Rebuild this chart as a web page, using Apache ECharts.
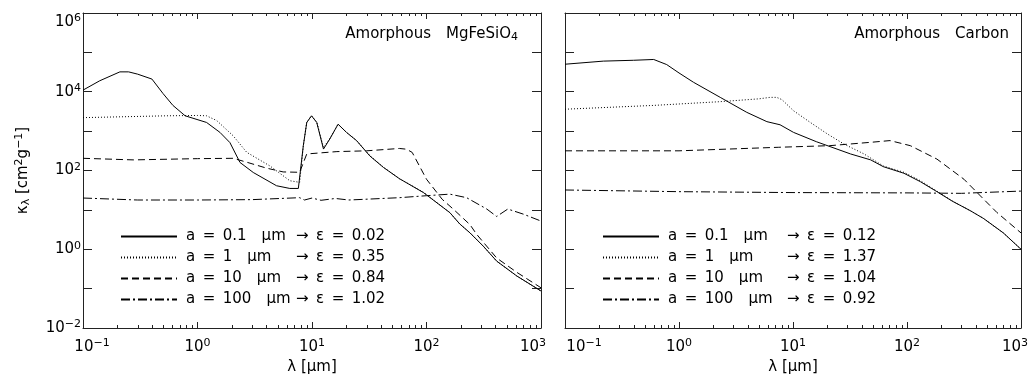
<!DOCTYPE html>
<html><head><meta charset="utf-8">
<script src="https://cdn.jsdelivr.net/npm/echarts@6/dist/echarts.min.js"></script>
<style>html,body{margin:0;padding:0;background:#fff}#c{width:1030px;height:383px}</style>
</head><body><div id="c"></div>
<script>
const FONT = 'DejaVu Sans';

// ---- data: [lambda (um), kappa (cm^2/g)] ----
const sil01 = [[0.1,1.1e4],[0.14,1.9e4],[0.21,3.2e4],[0.25,3.2e4],[0.30,2.8e4],[0.40,2.1e4],[0.50,9.0e3],[0.61,4.5e3],[0.78,2.45e3],[1.2,1.66e3],[1.57,930],[1.92,510],[2.35,160],[3.07,89],[4.9,41],[6.4,35],[7.6,35],[7.8,36],[8.4,430],[9.0,1660],[9.9,2450],[11.0,1660],[12.6,350],[14.3,630],[16.9,1500],[20,930],[24.5,575],[32,234],[42,120],[58,62],[94,27.5],[160,8.5],[195,4.4],[240,2.6],[313,1.2],[410,0.5],[614,0.21],[1000,0.087]];
const sil1 = [[0.1,2.2e3],[0.54,2.45e3],[1.0,2.5e3],[1.2,2.45e3],[1.47,1.86e3],[2.05,760],[2.69,290],[4.3,130],[6.4,55],[7.8,50],[8.4,430],[9.0,1660],[9.9,2450],[11.0,1700],[12.6,380],[14.3,650],[16.9,1500],[20,930],[24.5,575],[32,240],[42,122],[58,62],[94,28],[160,8.5],[195,4.4],[240,2.6],[313,1.2],[410,0.5],[614,0.21],[1000,0.087]];
const sil10 = [[0.1,204],[0.275,186],[1.0,200],[2.05,204],[2.7,162],[4.0,115],[5.6,92],[7.8,90],[9.0,263],[16.5,302],[30,316],[58,363],[67,347],[75,288],[100,60],[137,18.6],[171,10.5],[240,4.2],[274,2.4],[410,0.6],[614,0.26],[1000,0.105]];
const sil100 = [[0.1,20],[0.3,17.8],[1,17.8],[3,18.2],[7.8,20.4],[8.6,17.8],[10,20],[12,17.5],[16,19.5],[21,17.8],[58,20.4],[100,22.9],[160,25.1],[224,20.4],[336,10.5],[410,6.8],[513,10.5],[700,7.8],[1000,5.2]];

const car01 = [[0.1,5.0e4],[0.217,6.0e4],[0.4,6.3e4],[0.6,6.6e4],[0.78,4.9e4],[1.0,3.0e4],[1.34,1.74e4],[2.3,7.2e3],[3.93,3.0e3],[5.9,1.74e3],[7.7,1.45e3],[10.1,930],[16,540],[32,263],[48,186],[62,125],[94,85],[131,52],[183,29],[250,16.6],[360,9.5],[471,6.0],[700,2.6],[1000,1.0]];
const car1 = [[0.1,3.6e3],[0.6,4.5e3],[2.3,5.6e3],[5,6.6e3],[6.3,7.2e3],[7.2,7.2e3],[8,6.3e3],[10.1,3.3e3],[14.2,1.66e3],[20,850],[28,470],[42,263],[62,130],[94,90],[131,55],[183,30],[250,16.8],[360,9.5],[471,6.0],[700,2.6],[1000,1.0]];
const car10 = [[0.1,316],[1,316],[7.5,389],[21,427],[50,525],[71,575],[107,427],[183,195],[316,60],[471,18.6],[617,8.5],[1000,2.6]];
const car100 = [[0.1,32],[1,29],[10,27.5],[100,27],[300,26.3],[1000,30]];

// ---- labels / ticks ----
const grainSizes = ['0.1','1','10','100'];
const epsSil = ['0.02','0.35','0.84','1.02'];
const epsCar = ['0.12','1.37','1.04','0.92'];
const panelTitles = ['Amorphous MgFeSiO', 'Amorphous Carbon'];
const lamMinor = [0.2,0.3,0.4,0.5,0.6,0.7,0.8,0.9,2,3,4,5,6,7,8,9,20,30,40,50,60,70,80,90,200,300,400,500,600,700,800,900];

const lineTypes = ['solid',[1,2],[7,4],[9,3,2,3]];
const EN = '\u2002';

function supTxt(e){ return e < 0 ? '\u2212' + (-e) : String(e); }
const labRich = {
  b:{fontFamily:FONT,fontSize:15,lineHeight:18,color:'#000'},
  s:{fontFamily:FONT,fontSize:11,lineHeight:11,verticalAlign:'top',color:'#000'},
};
function xFormatter(gMin, gMax){
  return function(v){
    const e = Math.round(Math.log10(v));
    let s = '{b|10}{s|' + supTxt(e) + '}';
    if (e === -1) s = '{gmin| }' + s;
    if (e === 3) s = s + '{gmax| }';
    return s;
  };
}
function xRich(gMin, gMax){
  return Object.assign({}, labRich, {
    gmin:{width:gMin,fontSize:15,lineHeight:18},
    gmax:{width:gMax,fontSize:15,lineHeight:18}
  });
}
function yFormatter(v){
  const e = Math.round(Math.log10(v));
  if (e % 2 !== 0) return '';
  return '{b|10}{s|' + supTxt(e) + '}';
}

const axLine = {show:true,onZero:false,lineStyle:{color:'#222',width:1}};
function xAxisCfg(gi, pos, gMin, gMax){
  const bottom = pos === 'bottom';
  return {
    type:'log', logBase:10, gridIndex:gi, min:0.1, max:1000, position:pos,
    axisLine:axLine,
    axisTick:{show:true,inside:true,length:6,lineStyle:{color:'#222',width:1}},
    minorTick:{show:false}, splitLine:{show:false},
    axisLabel:{show:bottom,margin:10,color:'#000',fontFamily:FONT,fontSize:15,
      formatter:xFormatter(gMin,gMax),rich:xRich(gMin,gMax)},
    name: bottom ? '\u03bb [\u03bcm]' : '', nameLocation:'middle', nameGap:32, nameMoveOverlap:false,
    nameTextStyle:{fontFamily:FONT,fontSize:15,color:'#000'}
  };
}
function yAxisCfg(gi, pos, showLab, withName){
  return {
    type:'log', logBase:10, gridIndex:gi, min:1e-2, max:1e6, position:pos,
    axisLine:axLine,
    axisTick:{show:true,inside:true,length:9,lineStyle:{color:'#222',width:1}},
    minorTick:{show:false}, splitLine:{show:false},
    axisLabel:{show:showLab,margin:2,color:'#000',fontFamily:FONT,fontSize:15,
      formatter:yFormatter,rich:labRich,verticalAlignMaxLabel:'top'},
    name: withName ? '{k|\u03ba}{sb|\u03bb}{k| [cm}{sp|2}{k|g}{sp|\u22121}{k|]}' : '',
    nameLocation:'middle', nameGap:51, nameMoveOverlap:false,
    nameTextStyle:{fontFamily:FONT,fontSize:15,color:'#000',rich:{
      k:{fontFamily:FONT,fontSize:15,lineHeight:18,color:'#000'},
      sb:{fontFamily:FONT,fontSize:11,lineHeight:11,verticalAlign:'bottom',color:'#000'},
      sp:{fontFamily:FONT,fontSize:11,lineHeight:11,verticalAlign:'top',color:'#000'}
    }}
  };
}

function seriesName(i, eps){ return 'a = ' + grainSizes[i] + ' \u03bcm \u2192 \u03b5 = ' + eps[i]; }
function lineSeries(data, i, eps, xi, yi){
  return {type:'line', name:seriesName(i,eps), data:data, xAxisIndex:xi, yAxisIndex:yi,
    symbol:'none', showSymbol:false, smooth:false, silent:true, animation:false,
    lineStyle:{color:'#000',width:1,type:lineTypes[i]}, itemStyle:{color:'#000'}};
}
function minorSeries(xi, yi){
  return {type:'custom', name:'minor', xAxisIndex:xi, yAxisIndex:yi, silent:true, animation:false,
    data:lamMinor.map(v=>[v,1]),
    renderItem:function(params, api){
      const x = Math.round(api.coord([api.value(0),1])[0]) + 0.5;
      const cs = params.coordSys;
      const yb = cs.y + cs.height, yt = cs.y;
      return {type:'group',children:[
        {type:'line',shape:{x1:x,y1:yb,x2:x,y2:yb-3},style:{stroke:'#222',lineWidth:1}},
        {type:'line',shape:{x1:x,y1:yt,x2:x,y2:yt+3},style:{stroke:'#222',lineWidth:1}}
      ]};
    }};
}
function legendCfg(eps, left, wA){
  return {
    data:[0,1,2,3].map(i=>seriesName(i,eps)), orient:'vertical', left:left, top:229,
    itemWidth:56, itemHeight:14, itemGap:6, selectedMode:false, padding:0,
    itemStyle:{opacity:0, borderWidth:0},
    formatter:function(name){
      const parts = name.split(' \u2192 ');
      const a = parts[0].replace(/ /g, EN).replace(EN + '\u03bcm', EN + EN + '\u03bcm');
      const b = ('\u2192 ' + parts[1]).replace(/ /g, EN);
      return '{a|' + a + '}{b|' + b + '}';
    },
    textStyle:{fontFamily:FONT,fontSize:15,color:'#000',rich:{
      a:{fontFamily:FONT,fontSize:15,lineHeight:17,width:wA,padding:[0,0,0,4],color:'#000'},
      b:{fontFamily:FONT,fontSize:15,lineHeight:17,color:'#000'}
    }}
  };
}
function titleCfg(text, sub, rightEdge){
  return {text: '{a|' + text.replace(/ /g, EN + EN) + '}' + (sub ? '{s|' + sub + '}' : ''),
    left:rightEdge, textAlign:'right', top:25, padding:0,
    textStyle:{fontFamily:FONT,fontSize:15,fontWeight:'normal',color:'#000',rich:{
      a:{fontFamily:FONT,fontSize:15,fontWeight:'normal',lineHeight:18,color:'#000'},
      s:{fontFamily:FONT,fontSize:11,fontWeight:'normal',lineHeight:11,verticalAlign:'bottom',color:'#000'}
    }}};
}

const option = {
  backgroundColor:'#fff', animation:false,
  title:[titleCfg(panelTitles[0],'4',518), titleCfg(panelTitles[1],'',1009)],
  grid:[
    {left:83,right:489,top:13,bottom:55,containLabel:false,outerBoundsMode:'none'},
    {left:565,right:9,top:13,bottom:55,containLabel:false,outerBoundsMode:'none'}
  ],
  xAxis:[xAxisCfg(0,'bottom',18,16), xAxisCfg(0,'top',0,0), xAxisCfg(1,'bottom',38,12), xAxisCfg(1,'top',0,0)],
  yAxis:[yAxisCfg(0,'left',true,true), yAxisCfg(0,'right',false,false), yAxisCfg(1,'left',false,false), yAxisCfg(1,'right',false,false)],
  legend:[legendCfg(epsSil,120,110), legendCfg(epsCar,602,119)],
  series:[
    lineSeries(sil01,0,epsSil,0,0), lineSeries(sil1,1,epsSil,0,0), lineSeries(sil10,2,epsSil,0,0), lineSeries(sil100,3,epsSil,0,0),
    lineSeries(car01,0,epsCar,2,2), lineSeries(car1,1,epsCar,2,2), lineSeries(car10,2,epsCar,2,2), lineSeries(car100,3,epsCar,2,2),
    minorSeries(0,0), minorSeries(2,2)
  ]
};
const chart = echarts.init(document.getElementById('c'), null, {renderer:'canvas'});
chart.setOption(option);
</script></body></html>
